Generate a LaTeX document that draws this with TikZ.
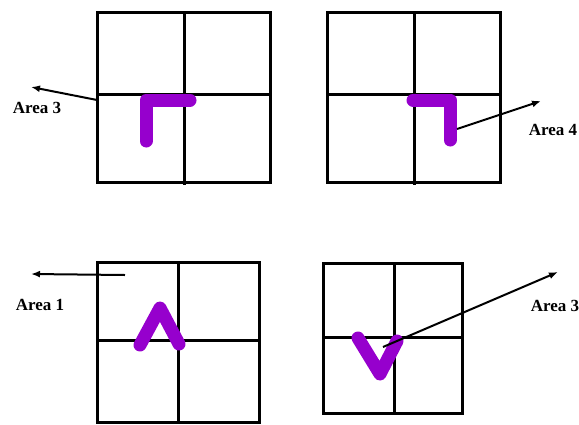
\documentclass[tikz,border=0pt]{standalone}
\usepackage{fontspec}
\setmainfont{Liberation Serif}
\usepackage{xcolor}
\usepackage{tikz}
\usetikzlibrary{arrows.meta, positioning}

\definecolor{gesture}{RGB}{150,0,205}

\begin{document}
\begin{tikzpicture}[
    x=1pt, y=-1pt,
    >={Latex[length=9pt,width=7pt]},
    gridline/.style={line width=3pt, black},
    stroke/.style={line width=13pt, gesture, line cap=round, line join=round},
    pointer/.style={->, line width=2pt, black},
    arealabel/.style={font=\fontsize{17}{17}\selectfont\bfseries, inner sep=0pt}
]
\useasboundingbox (0,0) rectangle (579,424);

% ==================== TOP LEFT: AREA 3 ====================
\draw[gridline] (97,12) rectangle (270,182);
\draw[gridline] (184,12) -- (184,185);
\draw[gridline] (97,94) -- (270,94);
\draw[stroke] (146,141) -- (146,100) -- (190,100);
\coordinate (tlstart) at (97,100);
\coordinate (tltip) at (31,87);
\node[arealabel] (tllabel) at (37,108) {Area 3};
\draw[pointer] (tlstart) -- (tltip);

% ==================== TOP RIGHT: AREA 4 ====================
\draw[gridline] (327,12) rectangle (500,182);
\draw[gridline] (414,12) -- (414,185);
\draw[gridline] (327,94) -- (500,94);
\draw[stroke] (413,100) -- (450,100) -- (450,140);
\coordinate (trstart) at (457,129);
\coordinate (trtip) at (541,101);
\node[arealabel] (trlabel) at (553,130) {Area 4};
\draw[pointer] (trstart) -- (trtip);

% ==================== BOTTOM LEFT: AREA 1 ====================
\draw[gridline] (97,262) rectangle (259,422);
\draw[gridline] (178,262) -- (178,422);
\draw[gridline] (97,340) -- (259,340);
\draw[stroke] (140,345) -- (160,308) -- (179,344);
\coordinate (blstart) at (125,275);
\coordinate (bltip) at (31,274);
\node[arealabel] (bllabel) at (40,305) {Area 1};
\draw[pointer] (blstart) -- (bltip);

% ==================== BOTTOM RIGHT: AREA 3 ====================
\draw[gridline] (323,263) rectangle (462,413);
\draw[gridline] (394,263) -- (394,413);
\draw[gridline] (323,337) -- (462,337);
\draw[stroke] (358,338) -- (380,374) -- (397,341);
\coordinate (brstart) at (383,347);
\coordinate (brtip) at (558,272);
\node[arealabel] (brlabel) at (555,306) {Area 3};
\draw[pointer] (brstart) -- (brtip);

\end{tikzpicture}
\end{document}
